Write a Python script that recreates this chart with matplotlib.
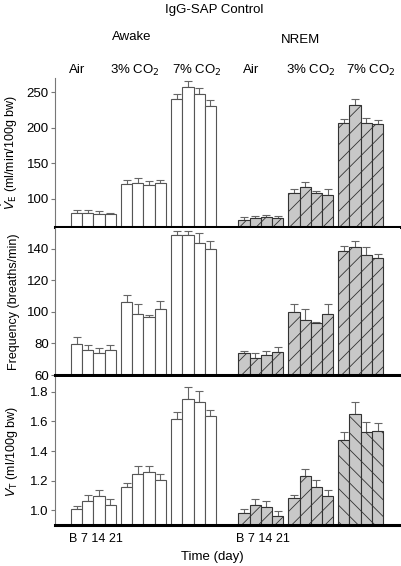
import numpy as np
import matplotlib
matplotlib.use("Agg")
import matplotlib.pyplot as plt

plt.rcParams['font.family'] = ['Liberation Sans', 'DejaVu Sans']
plt.rcParams['font.size'] = 8.5
plt.rcParams['hatch.linewidth'] = 0.6
plt.rcParams['hatch.color'] = '#222222'

# -------------------- datos --------------------
days = ["B", "7", "14", "21"]
conditions = ["Air", "3% CO$_2$", "7% CO$_2$"]
states = ["Awake", "NREM"]

# VE (ml/min/100g bw): [estado][condicion][dia]
ve_mean = [
    [[80, 80, 79, 78], [121, 122, 119, 122], [241, 258, 248, 230]],
    [[70.5, 72.5, 73.5, 72], [108, 116, 107.5, 105.5], [206, 231.5, 207, 205.5]],
]
ve_err = [
    [[4, 4, 3, 2], [5, 7, 5.5, 4], [7, 7.5, 8, 9.5]],
    [[3.5, 2.5, 4, 3], [5, 7, 3, 8.5], [6, 9, 6, 6]],
]

# Frecuencia (breaths/min)
f_mean = [
    [[79.7, 75.7, 73.8, 75.7], [105.9, 98.5, 96.6, 101.7], [148.7, 148.3, 143.6, 139.8]],
    [[73.8, 70.6, 72.7, 74.8], [99.8, 94.9, 92.8, 98.7], [138.7, 140.8, 136, 133.9]],
]
f_err = [
    [[4.2, 3, 3, 3], [4.5, 6.4, 1.1, 5], [2.7, 3, 6, 5]],
    [[1.7, 3.2, 2.7, 2.8], [5, 6.8, 1, 6.2], [3, 3.8, 4.8, 2.8]],
]

# VT (ml/100g bw)
vt_mean = [
    [[1.005, 1.063, 1.096, 1.036], [1.157, 1.247, 1.258, 1.206], [1.616, 1.751, 1.728, 1.639]],
    [[0.982, 1.034, 1.022, 0.964], [1.085, 1.229, 1.157, 1.096], [1.477, 1.650, 1.526, 1.538]],
]
vt_err = [
    [[0.022, 0.042, 0.043, 0.043], [0.027, 0.051, 0.040, 0.038], [0.045, 0.083, 0.079, 0.040]],
    [[0.023, 0.045, 0.040, 0.031], [0.020, 0.049, 0.045, 0.043], [0.049, 0.078, 0.072, 0.049]],
]

panels = [
    (ve_mean, ve_err, r"$\dot{V}_{\rm E}$ (ml/min/100g bw)", (60, 270), [100, 150, 200, 250], "%d"),
    (f_mean, f_err, "Frequency (breaths/min)", (60, 153), [60, 80, 100, 120, 140], "%d"),
    (vt_mean, vt_err, r"$V_{\rm T}$ (ml/100g bw)", (0.9, 1.9), [1.0, 1.2, 1.4, 1.6, 1.8], "%.1f"),
]

# inicio de cada grupo (en anchos de barra)
group_start = [[0.0, 4.444, 8.889], [14.87, 19.31, 23.75]]

W, H = 402, 566
fig = plt.figure(figsize=(W / 100, H / 100), dpi=100)

# (top_px, bottom_px)
rows_px = [(78, 227), (228, 375), (377, 525)]
left_px, right_px = 55, 400

axes = []
for p, ((mean, err, ylab, ylim, yt, fmt), (t, b)) in enumerate(zip(panels, rows_px)):
    ax = fig.add_axes([left_px / W, 1 - b / H, (right_px - left_px) / W, (b - t) / H])
    axes.append(ax)
    for s in range(2):
        for c in range(3):
            x = group_start[s][c] + 0.5 + np.arange(4)
            v = np.array(mean[s][c])
            e = np.array(err[s][c])
            if s == 0:
                ax.bar(x, v, width=1.0, color='white', edgecolor='#555555', lw=0.8, zorder=2)
            else:
                hatch = '\\\\' if (p == 2 and c == 2) else '//'
                ax.bar(x, v, width=1.0, color='#c8c8c8', edgecolor='#333333', lw=0.8,
                       hatch=hatch, zorder=2)
            ax.errorbar(x, v, yerr=[np.zeros_like(e), e], fmt='none', ecolor='#666666',
                        elinewidth=0.8, capsize=3, capthick=0.8, zorder=1)
    ax.set_xlim(-1.42, 29.24)
    ax.set_ylim(*ylim)
    ax.set_yticks(yt)
    ax.set_yticklabels([fmt % v for v in yt])
    ax.set_xticks([])
    ax.spines['top'].set_visible(False)
    ax.spines['right'].set_visible(False)
    ax.spines['left'].set_color('#777777')
    ax.spines['left'].set_linewidth(0.8)
    ax.spines['bottom'].set_color('black')
    ax.spines['bottom'].set_linewidth(2.2)
    ax.spines['bottom'].set_zorder(5)
    ax.tick_params(axis='y', length=3, width=0.8, color='#777777', pad=1.5, labelsize=9.5)
    ax.set_ylabel(ylab, fontsize=9, labelpad=3)
    ax.yaxis.set_label_coords(-0.1, 0.5)

# etiquetas de dias bajo el panel inferior
for s in range(2):
    axes[2].text(group_start[s][0] + 2.2, 0.805, " ".join(days), ha='center', va='center',
                 fontsize=9)

# etiquetas de condiciones
cond_x = [77, 135, 197, 251, 311, 371]
for k, cx in enumerate(cond_x):
    fig.text(cx / W, 1 - 70 / H, conditions[k % 3], ha='center', va='center', fontsize=9.5)

fig.text(132 / W, 1 - 37 / H, states[0], ha='center', va='center', fontsize=9.5)
fig.text(300 / W, 1 - 40 / H, states[1], ha='center', va='center', fontsize=9.5)
fig.text(214 / W, 1 - 10 / H, "IgG-SAP Control", ha='center', va='center', fontsize=9.5)
fig.text(212 / W, 1 - 557 / H, "Time (day)", ha='center', va='center', fontsize=9.5)

fig.savefig("out.png", dpi=100)
